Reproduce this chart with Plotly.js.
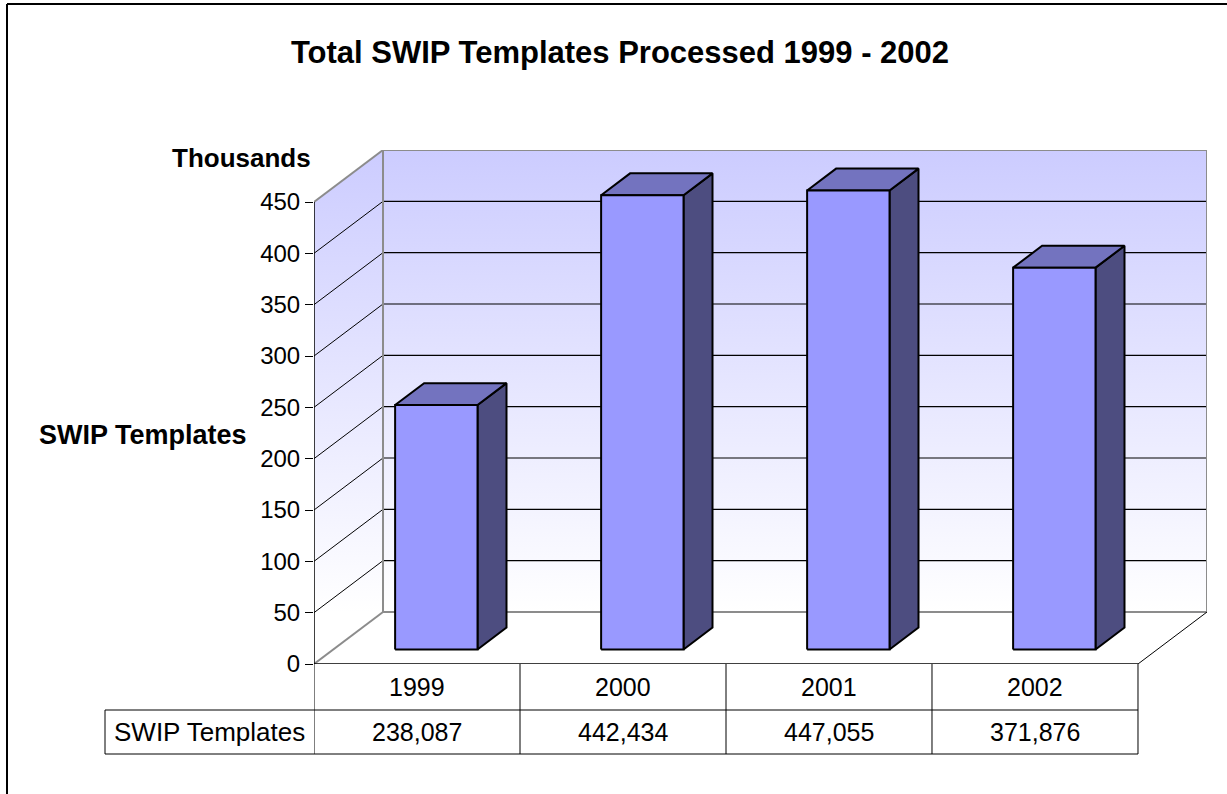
<!DOCTYPE html>
<html>
<head>
<meta charset="utf-8">
<script src="https://cdn.plot.ly/plotly-3.0.1.min.js"></script>
<style>
html,body{margin:0;padding:0;background:#fff;}
#chart{width:1227px;height:794px;}
</style>
</head>
<body>
<div id="chart"></div>
<script>
// ---- data ----
const categories = ['1999', '2000', '2001', '2002'];
const templates = [238087, 442434, 447055, 371876];
const seriesName = 'SWIP Templates';
const yTickVals = [0, 50, 100, 150, 200, 250, 300, 350, 400, 450];
const yTickText = ['0', '50', '100', '150', '200', '250', '300', '350', '400', '450'];
const chartTitle = 'Total SWIP Templates Processed 1999 - 2002';
const unitLabel = 'Thousands';
const axisLabel = 'SWIP Templates';

// ---- geometry / style ----
const W = 1227, H = 794;
const M = {l: 314, r: 20, t: 150, b: 130};
const DX = 0.335, DY = 50.65;         // 3D depth offset in axis units
const YMAX = 450;
const BW = 0.4, D1 = 0.28, D2 = 0.70; // bar width and depth band
const FONT = 'Liberation Sans, Arial, Helvetica, sans-serif';
const XMIN = -0.5, XMAX = categories.length - 0.5;
const plotW = W - M.l - M.r, plotH = H - M.t - M.b;
const xRange = [XMIN, XMAX + DX];
const yRange = [0, YMAX + DY];
const px2paperX = p => (p - M.l) / plotW;
const px2paperY = p => (H - M.b - p) / plotH;
const data2paperX = x => (x - xRange[0]) / (xRange[1] - xRange[0]);

const traces = [];
function poly(xs, ys, opts) {
  traces.push(Object.assign({
    type: 'scatter', mode: 'lines', x: xs, y: ys,
    hoverinfo: 'skip', showlegend: false
  }, opts));
}
function segs(list, color, width) {
  const xs = [], ys = [];
  list.forEach(s => { xs.push(s[0], s[2], null); ys.push(s[1], s[3], null); });
  poly(xs, ys, {line: {color: color, width: width}});
}
const grad = {type: 'vertical', start: DY, stop: YMAX + DY,
  colorscale: [[0, '#ffffff'], [1, '#ccccff']]};

// floor
poly([XMIN, XMAX, XMAX + DX, XMIN + DX, XMIN], [0, 0, DY, DY, 0],
  {fill: 'toself', fillcolor: '#ffffff', line: {width: 0, color: 'rgba(0,0,0,0)'}});
// back wall
poly([XMIN + DX, XMAX + DX, XMAX + DX, XMIN + DX, XMIN + DX], [DY, DY, YMAX + DY, YMAX + DY, DY],
  {fill: 'toself', fillcolor: '#e6e6ff', fillgradient: grad, line: {width: 0, color: 'rgba(0,0,0,0)'}});
// side wall
poly([XMIN, XMIN + DX, XMIN + DX, XMIN, XMIN], [0, DY, YMAX + DY, YMAX, 0],
  {fill: 'toself', fillcolor: '#e6e6ff', fillgradient: grad, line: {width: 0, color: 'rgba(0,0,0,0)'}});

// gridlines
const inner = yTickVals.filter(v => v > 0 && v < YMAX);
segs(inner.map(v => [XMIN + DX, v + DY, XMAX + DX, v + DY]), '#000000', 1.2);
segs(inner.map(v => [XMIN, v, XMIN + DX, v + DY]), '#000000', 1);

// gray wall edges
segs([
  [XMIN + DX, DY, XMAX + DX, DY],
  [XMAX + DX, DY, XMAX + DX, YMAX + DY],
  [XMAX + DX, YMAX + DY, XMIN + DX, YMAX + DY],
  [XMIN + DX, YMAX + DY, XMIN + DX, DY],
  [XMIN, YMAX, XMIN + DX, YMAX + DY],
  [XMIN, 0, XMIN + DX, DY]
], '#8c8c8c', 2);
// black edges
segs([[XMAX, 0, XMAX + DX, DY]], '#000000', 1);
segs([[XMIN, 0, XMIN, YMAX], [XMIN, 0, XMAX, 0]], '#000000', 1.5);

// bars (front, top, side faces)
templates.forEach((val, i) => {
  const v = val / 1000;
  const xl = i - BW / 2, xr = i + BW / 2;
  const fx = D1 * DX, fy = D1 * DY, bx = D2 * DX, by = D2 * DY;
  // side
  poly([xr + fx, xr + bx, xr + bx, xr + fx, xr + fx], [fy, by, v + by, v + fy, fy],
    {fill: 'toself', fillcolor: '#4d4d80', line: {color: '#000000', width: 2}});
  // top
  poly([xl + fx, xr + fx, xr + bx, xl + bx, xl + fx], [v + fy, v + fy, v + by, v + by, v + fy],
    {fill: 'toself', fillcolor: '#7373bf', line: {color: '#000000', width: 2}});
  // front
  poly([xl + fx, xr + fx, xr + fx, xl + fx, xl + fx], [fy, fy, v + fy, v + fy, fy],
    {fill: 'toself', fillcolor: '#9999ff', line: {color: '#000000', width: 2}, name: categories[i]});
});

// ---- table ----
const rowTop = 664, rowMid = 710, rowBot = 754, labelLeft = 105;
const shapes = [];
const lineStyle = {color: '#000000', width: 1};
for (let k = 0; k <= categories.length; k++) {
  shapes.push({type: 'line', xref: 'x', yref: 'paper', x0: XMIN + k, x1: XMIN + k,
    y0: px2paperY(rowTop), y1: px2paperY(rowBot), line: lineStyle});
}
[rowMid, rowBot].forEach(r => shapes.push({type: 'line', xref: 'paper', yref: 'paper',
  x0: px2paperX(labelLeft), x1: data2paperX(XMAX), y0: px2paperY(r), y1: px2paperY(r), line: lineStyle}));
shapes.push({type: 'line', xref: 'paper', yref: 'paper', x0: px2paperX(labelLeft), x1: px2paperX(labelLeft),
  y0: px2paperY(rowMid), y1: px2paperY(rowBot), line: lineStyle});
// outer frame (top and left)
shapes.push({type: 'line', xref: 'paper', yref: 'paper', x0: px2paperX(7), x1: px2paperX(W),
  y0: px2paperY(4), y1: px2paperY(4), line: {color: '#000000', width: 2}});
shapes.push({type: 'line', xref: 'paper', yref: 'paper', x0: px2paperX(7), x1: px2paperX(7),
  y0: px2paperY(4), y1: px2paperY(H), line: {color: '#000000', width: 2}});

const annotations = [];
categories.forEach((c, i) => {
  annotations.push({xref: 'x', yref: 'paper', x: i, y: px2paperY((rowTop + rowMid) / 2),
    text: c, showarrow: false, xanchor: 'center', yanchor: 'middle',
    font: {family: FONT, size: 25, color: '#000'}});
  annotations.push({xref: 'x', yref: 'paper', x: i, y: px2paperY((rowMid + rowBot) / 2),
    text: templates[i].toLocaleString('en-US'), showarrow: false, xanchor: 'center', yanchor: 'middle',
    font: {family: FONT, size: 25, color: '#000'}});
});
annotations.push({xref: 'paper', yref: 'paper', x: px2paperX((labelLeft + M.l) / 2), y: px2paperY((rowMid + rowBot) / 2),
  text: seriesName, showarrow: false, xanchor: 'center', yanchor: 'middle',
  font: {family: FONT, size: 26, color: '#000'}});
annotations.push({xref: 'paper', yref: 'paper', x: px2paperX(241), y: px2paperY(158),
  text: '<b>' + unitLabel + '</b>', showarrow: false, xanchor: 'center', yanchor: 'middle',
  font: {family: FONT, size: 26, color: '#000'}});
annotations.push({xref: 'paper', yref: 'paper', x: px2paperX(143), y: px2paperY(435),
  text: '<b>' + axisLabel + '</b>', showarrow: false, xanchor: 'center', yanchor: 'middle',
  font: {family: FONT, size: 27, color: '#000'}});

const layout = {
  width: W, height: H,
  margin: M,
  paper_bgcolor: '#ffffff', plot_bgcolor: 'rgba(0,0,0,0)',
  showlegend: false, hovermode: false,
  title: {text: '<b>' + chartTitle + '</b>', xref: 'container', yref: 'container',
    x: 620 / W, y: 1 - 52 / H, xanchor: 'center', yanchor: 'middle',
    font: {family: FONT, size: 31, color: '#000'}},
  xaxis: {range: xRange, visible: false, fixedrange: true},
  yaxis: {range: yRange, tickvals: yTickVals, ticktext: yTickText, ticks: 'outside',
    ticklen: 8, tickcolor: '#000', tickwidth: 1, showgrid: false, zeroline: false, showline: false,
    tickfont: {family: FONT, size: 24, color: '#000'}, fixedrange: true},
  shapes: shapes,
  annotations: annotations
};

Plotly.newPlot('chart', traces, layout, {displayModeBar: false, staticPlot: true});
</script>
</body>
</html>
